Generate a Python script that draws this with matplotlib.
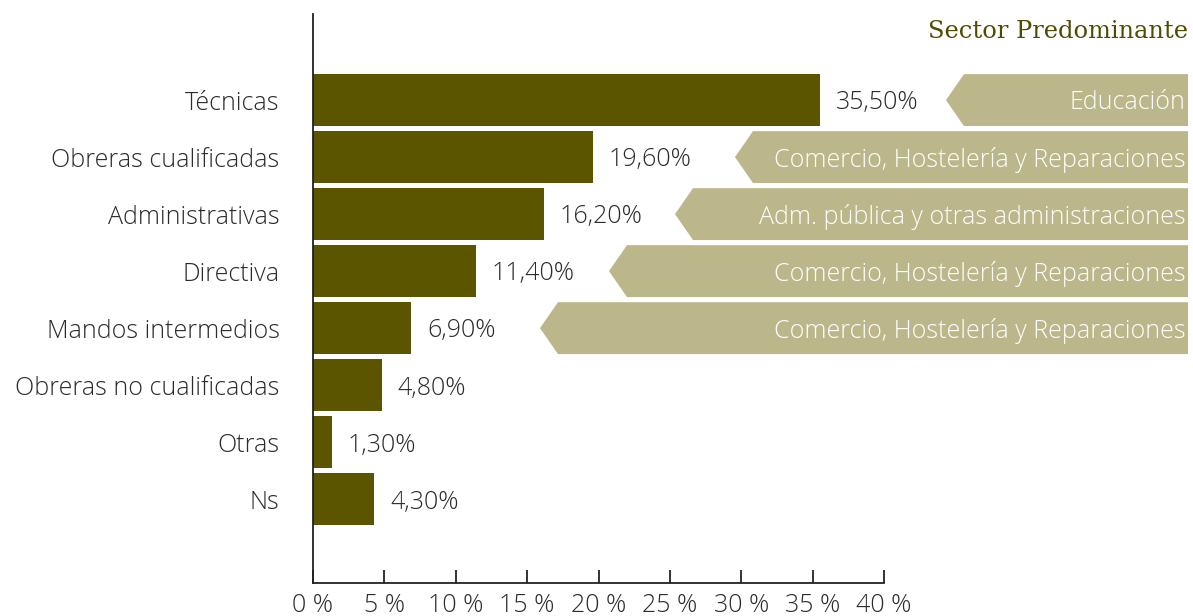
import matplotlib
matplotlib.use("Agg")
import matplotlib.pyplot as plt
from matplotlib.patches import Polygon

categories = ["Técnicas", "Obreras cualificadas", "Administrativas", "Directiva",
              "Mandos intermedios", "Obreras no cualificadas", "Otras", "Ns"]
values = [35.5, 19.6, 16.2, 11.4, 6.9, 4.8, 1.3, 4.3]
value_labels = ["35,50%", "19,60%", "16,20%", "11,40%", "6,90%", "4,80%", "1,30%", "4,30%"]
sectors = ["Educación", "Comercio, Hostelería y Reparaciones",
           "Adm. pública y otras administraciones",
           "Comercio, Hostelería y Reparaciones",
           "Comercio, Hostelería y Reparaciones"]
xticks = [0, 5, 10, 15, 20, 25, 30, 35, 40]
xtick_labels = ["0 %", "5 %", "10 %", "15 %", "20 %", "25 %", "30 %", "35 %", "40 %"]

plt.rcParams['font.family'] = ['Open Sans', 'DejaVu Sans']

W, H = 1193, 616
fig = plt.figure(figsize=(W / 100, H / 100), dpi=100)
left_px, right_px, top_px, bot_px = 313, 884, 14, 583
ax = fig.add_axes([left_px / W, 1 - bot_px / H, (right_px - left_px) / W, (bot_px - top_px) / H])

bar_color = "#5b5500"
arrow_color = "#bbb78a"
text_color = "#2b2b2b"
fs = 18.0
fw = "light"

ypos = list(range(len(categories)))
ax.barh(ypos, values, height=0.91, color=bar_color, zorder=2)
ax.set_xlim(0, 40)
ax.set_ylim(8.47, -1.51)

for y, v, lab in zip(ypos, values, value_labels):
    ax.text(v + 1.1, y + 0.05, lab, va="center", ha="left", fontsize=fs,
            color=text_color, fontweight=fw)

px_per_unit = (right_px - left_px) / 40.0
right_end = (1188 - left_px) / px_per_unit
notch = 18 / px_per_unit
tips_px = [946, 735, 675, 609, 540]
for y, s in enumerate(sectors):
    tip = (tips_px[y] - left_px) / px_per_unit
    h = 0.455
    poly = Polygon([(tip, y), (tip + notch, y - h), (right_end, y - h),
                    (right_end, y + h), (tip + notch, y + h)],
                   closed=True, facecolor=arrow_color, edgecolor="none",
                   clip_on=False, zorder=1)
    ax.add_patch(poly)
    ax.text(right_end - 0.2, y + 0.05, s, ha="right", va="center", fontsize=fs,
            color="white", fontweight=fw, clip_on=False)

fig.text(1188 / W, 1 - 31 / H, "Sector Predominante", ha="right", va="center",
         fontsize=17.4, color="#4f4b00", family="DejaVu Serif")

ax.set_yticks(ypos)
ax.set_yticklabels(categories, fontsize=fs, color=text_color, fontweight=fw)
ax.tick_params(axis="y", length=0, pad=24)
ax.set_xticks(xticks)
ax.set_xticklabels(xtick_labels, fontsize=fs, color=text_color, fontweight=fw)
ax.tick_params(axis="x", direction="in", length=9.4, width=1.3, color="#222222", pad=7)

for s in ["top", "right"]:
    ax.spines[s].set_visible(False)
for s in ["left", "bottom"]:
    ax.spines[s].set_color("#222222")
    ax.spines[s].set_linewidth(1.3)

fig.savefig("out.png", dpi=100)
